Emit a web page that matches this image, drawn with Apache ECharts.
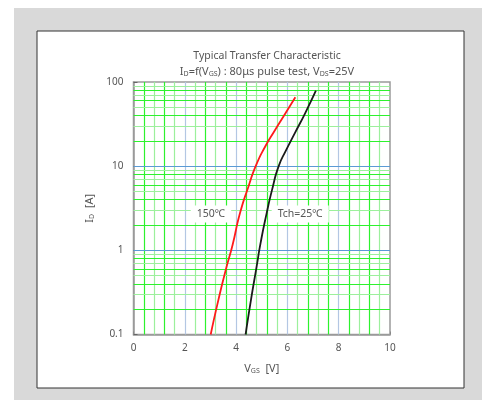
<!DOCTYPE html>
<html><head><meta charset="utf-8">
<script src="https://cdn.jsdelivr.net/npm/echarts@6/dist/echarts.min.js"></script>
<style>html,body{margin:0;padding:0;background:#fff;}#c{width:482px;height:400px;}</style>
</head><body><div id="c"></div>
<script>
const titleText = 'Typical Transfer Characteristic';
const redName = '150℃';
const blackName = 'Tch=25℃';
const redV = [3.01, 3.31, 3.63, 3.86, 4.15, 4.48, 4.78, 5.13, 5.52, 5.84, 6.31];
const redI = [0.1, 0.258, 0.64, 1.15, 2.75, 5.7, 10.3, 17, 26.9, 38.7, 65.8];
const blackV = [4.37, 4.58, 4.80, 4.95, 5.19, 5.42, 5.66, 5.95, 6.30, 6.69, 7.11];
const blackI = [0.1, 0.258, 0.64, 1.2, 2.75, 5.5, 10.0, 15.5, 25.0, 42.5, 78.9];
const xGridStep = 0.4;
const xGridCount = 24;
const yDecades = [0.1, 1, 10];
const yMult = [2, 3, 4, 5, 6, 7, 8, 9];
const redLabelPos = [3.02, 2.7];
const blackLabelPos = [6.5, 2.7];

const FONT = 'Noto Sans';
const TXT = '#555';
const BRIGHT = '#2df22d';
const LIGHT = '#9cf09c';
const gridLines = [];
for (let k = 1; k <= xGridCount; k++) {
  const v = +(k * xGridStep).toFixed(2);
  const col = k % 5 === 0 ? '#b3c7e3' : (k % 2 ? BRIGHT : LIGHT);
  gridLines.push({xAxis: v, lineStyle: {color: col, width: 1.2, type: 'solid'}});
}
yDecades.forEach(d => yMult.forEach((m, i) => {
  gridLines.push({yAxis: +(d * m).toPrecision(3), lineStyle: {color: i % 2 ? LIGHT : BRIGHT, width: 1.2, type: 'solid'}});
}));
[1, 10].forEach(v => gridLines.push({yAxis: v, lineStyle: {color: '#5b9bd5', width: 1.2, type: 'solid'}}));

const richSub = {n: {fontFamily: FONT, fontSize: 11, color: TXT, verticalAlign: 'bottom'},
                 s: {fontFamily: FONT, fontSize: 7, color: TXT, verticalAlign: 'bottom'}};

const chart = echarts.init(document.getElementById('c'), null, {renderer: 'canvas'});
chart.setOption({
  animation: false,
  graphic: [
    {type: 'rect', z: -10, shape: {x: 14, y: 8, width: 468, height: 392}, style: {fill: '#d9d9d9'}},
    {type: 'rect', z: -9, shape: {x: 37, y: 31, width: 427, height: 357}, style: {fill: '#fff', stroke: '#333', lineWidth: 1}}
  ],
  title: [
    {text: titleText, left: 262, top: 46, textAlign: 'center',
     textStyle: {fontFamily: FONT, fontSize: 10.5, fontWeight: 'normal', color: TXT}},
    {text: '{n|I}{s|D}{n|=f(V}{s|GS}{n|) : 80μs pulse test, V}{s|DS}{n|=25V}', left: 262, top: 61, textAlign: 'center',
     textStyle: {fontFamily: FONT, fontSize: 11, fontWeight: 'normal', color: TXT, rich: richSub}}
  ],
  grid: {left: 133.5, top: 82, width: 256.5, height: 252.5, show: true, backgroundColor: '#fff', borderColor: '#9a9a9a', borderWidth: 1.5},
  xAxis: {
    type: 'value', min: 0, max: 10, interval: 2,
    name: '{n|V}{s|GS}{n|  [V]}', nameLocation: 'middle', nameGap: 29,
    nameTextStyle: {fontFamily: FONT, fontSize: 11, color: TXT, rich: richSub},
    axisLine: {lineStyle: {color: '#9a9a9a', width: 1.5}},
    axisTick: {show: true, inside: true, length: 3, lineStyle: {color: '#888'}},
    axisLabel: {fontFamily: FONT, fontSize: 10, color: TXT, margin: 9},
    splitLine: {show: false}
  },
  yAxis: {
    type: 'log', logBase: 10, min: 0.1, max: 100,
    name: '{n|I}{s|D}{n|  [A]}', nameLocation: 'middle', nameGap: 38, nameRotate: 90,
    nameTextStyle: {fontFamily: FONT, fontSize: 11, color: TXT, rich: richSub},
    axisLine: {lineStyle: {color: '#9a9a9a', width: 1.5}},
    axisTick: {show: true, inside: true, length: 4, lineStyle: {color: '#666'}},
    axisLabel: {fontFamily: FONT, fontSize: 10, color: TXT, margin: 10,
      formatter: v => (v < 1 ? v.toFixed(1) : String(Math.round(v)))},
    splitLine: {show: false}
  },
  series: [
    {type: 'line', data: [], silent: true, z: 1,
     markLine: {silent: true, symbol: 'none', label: {show: false}, animation: false, data: gridLines}},
    {name: redName, type: 'line', smooth: 0.6, symbol: 'none', z: 5,
     lineStyle: {color: '#ff1a1a', width: 1.8},
     data: redV.map((v, i) => [v, redI[i]]),
     markPoint: {symbol: 'rect', symbolSize: 1, itemStyle: {color: 'rgba(0,0,0,0)'},
       label: {show: true, position: 'inside', formatter: redName, fontFamily: FONT, fontSize: 10.5, color: TXT,
               backgroundColor: '#fff', padding: [3, 6]},
       data: [{coord: redLabelPos}]}},
    {name: blackName, type: 'line', smooth: 0.6, symbol: 'none', z: 5,
     lineStyle: {color: '#1a1a1a', width: 1.8},
     data: blackV.map((v, i) => [v, blackI[i]]),
     markPoint: {symbol: 'rect', symbolSize: 1, itemStyle: {color: 'rgba(0,0,0,0)'},
       label: {show: true, position: 'inside', formatter: blackName, fontFamily: FONT, fontSize: 10.5, color: TXT,
               backgroundColor: '#fff', padding: [3, 6]},
       data: [{coord: blackLabelPos}]}}
  ]
});
</script></body></html>
